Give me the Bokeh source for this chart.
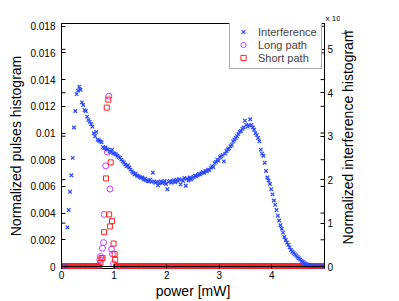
import math
import numpy as np
from bokeh.plotting import figure
from bokeh.layouts import row
from bokeh.models import (Range1d, LinearAxis, FixedTicker, CustomJSTickFormatter,
                          Span, Title, Legend, LegendItem)
from bokeh.core.properties import value
from bokeh.embed import file_html
from bokeh.resources import INLINE

# ---------------- data ----------------
# interference histogram (units of 1e-4), bins of 0.025 mW starting at 0.0125 mW
interference = [
    0, 0, 0, 0, 0.9, 1.3, 1.72, 2.1, 2.5, 3.2,
    3.58, 3.97, 4.05, 4.14, 4.07, 3.78, 3.72, 3.6, 3.58, 3.45,
    3.37, 3.33, 3.28, 3.22, 3.07, 3.0, 3.1, 2.92, 2.9, 2.88,
    2.86, 2.75, 2.72, 2.74, 2.7, 2.69, 2.65, 2.63, 2.69, 2.61,
    2.6, 2.58, 2.55, 2.52, 2.5, 2.46, 2.42, 2.39, 2.35, 2.31,
    2.33, 2.28, 2.23, 2.19, 2.16, 2.12, 2.14, 2.09, 2.08, 2.06,
    2.04, 2.05, 2.0, 2.02, 1.99, 1.97, 1.96, 2.0, 1.95, 2.16,
    1.96, 1.93, 1.95, 1.87, 1.93, 1.96, 1.92, 1.94, 1.97, 1.9,
    1.78, 1.95, 1.97, 1.93, 1.96, 1.99, 1.94, 2.0, 1.97, 2.01,
    1.89, 2.0, 1.97, 2.04, 1.86, 2.02, 1.98, 2.05, 2.0, 2.03,
    2.06, 2.09, 2.08, 2.1, 2.13, 2.12, 2.15, 2.17, 2.16, 2.2,
    2.19, 2.23, 2.22, 2.27, 2.31, 2.29, 2.38, 2.41, 2.46, 2.44,
    2.52, 2.54, 2.57, 2.42, 2.6, 2.66, 2.7, 2.72, 2.77, 2.8,
    2.88, 2.92, 2.96, 3.0, 3.05, 3.1, 3.12, 3.17, 3.2, 3.36,
    3.26, 3.22, 3.25, 3.39, 3.26, 3.2, 3.15, 3.07, 3.03, 2.96,
    2.88, 2.69, 2.6, 2.55, 2.39, 2.2, 2.05, 1.98, 1.9, 1.78,
    1.66, 1.52, 1.42, 1.3, 1.17, 1.06, 0.95, 0.87, 0.78, 0.68,
    0.61, 0.55, 0.5, 0.44, 0.38, 0.34, 0.31, 0.28, 0.25, 0.22,
    0.19, 0.16, 0.13, 0.11, 0.085, 0.065, 0.05, 0.038, 0.028, 0.02,
    0.014, 0.01, 0.007, 0.005, 0.003, 0.002, 0.001, 0.0005, 0.0002, 0,
]
bin_start, bin_step = 0.0125, 0.025
power_bins = np.round(bin_start + bin_step * np.arange(len(interference)), 4)

# pulse histograms: non-zero bins
long_x = [0.73, 0.74, 0.78, 0.80, 0.81, 0.84, 0.87, 0.90, 0.92, 0.95, 0.97, 0.99]
long_y = [0.0005, 0.00075, 0.00137, 0.00179, 0.0039, 0.00754, 0.00858, 0.01276,
          0.0058, 0.0013, 0.00093, 0.0002]
short_x = [0.74, 0.76, 0.78, 0.81, 0.846, 0.86, 0.89, 0.905, 0.92, 0.935, 0.96,
           0.99, 1.01, 1.02]
short_y = [0.00025, 0.00063, 0.00063, 0.00257, 0.0066, 0.0119, 0.0125, 0.0039,
           0.003, 0.0078, 0.0034, 0.00172, 0.00093, 0.0005]
peak_lo, peak_hi = 0.72, 1.03
zero_x = power_bins[(power_bins < peak_lo) | (power_bins > peak_hi)]
zero_y = np.zeros(len(zero_x))

left_ticks = [0, 0.002, 0.004, 0.006, 0.008, 0.01, 0.012, 0.014, 0.016, 0.018]
right_ticks = [0, 1, 2, 3, 4, 5]
x_ticks = [0, 1, 2, 3, 4]

x_label = "power [mW]"
left_label = "Normalized pulses histogram"
right_label = "Normalized interference histogram"
exp_base, exp_power = "x 10", "-4"

# ---------------- main figure ----------------
FONT = "Liberation Sans"
W, H = 399, 301
MAIN_W = 340
x_lo, x_hi = 0, 5
left_lo, left_hi = -0.000149, 0.018202
scale = 307.4  # right axis units (1e-4) per left axis unit
p = figure(width=MAIN_W, height=H, output_backend="svg", toolbar_location=None,
           x_range=Range1d(x_lo, x_hi), y_range=Range1d(left_lo, left_hi),
           min_border_left=61, min_border_right=16, min_border_top=23,
           min_border_bottom=32)
p.extra_y_ranges = {"right": Range1d(left_lo * scale, left_hi * scale)}
p.grid.visible = False
p.outline_line_color = "black"
p.outline_line_width = 1
p.background_fill_color = "white"
p.border_fill_color = "white"

def style_axis(ax):
    ax.major_tick_in = 4
    ax.major_tick_out = 0
    ax.minor_tick_in = 0
    ax.minor_tick_out = 0
    ax.axis_line_color = "black"
    ax.major_tick_line_color = "black"
    ax.major_label_text_font = FONT
    ax.major_label_text_font_size = "10px"
    ax.major_label_text_color = "black"
    ax.axis_label_text_font = FONT
    ax.axis_label_text_font_size = "14px"
    ax.axis_label_text_font_style = "normal"
    ax.axis_label_text_color = "black"

xa = p.xaxis[0]
xa.ticker = FixedTicker(ticks=x_ticks)
xa.axis_label = x_label
style_axis(xa)
xa.axis_line_color = None
xa.major_label_standoff = 2
xa.axis_label_standoff = 1

ya = p.yaxis[0]
ya.ticker = FixedTicker(ticks=left_ticks)
ya.formatter = CustomJSTickFormatter(code="return String(parseFloat(tick.toFixed(4)));")
ya.axis_label = left_label
style_axis(ya)
ya.major_label_standoff = 6
ya.axis_label_standoff = 3

ra = LinearAxis(y_range_name="right")
ra.ticker = FixedTicker(ticks=right_ticks)
style_axis(ra)
ra.major_label_standoff = 3
p.add_layout(ra, "right")

# ---------------- data glyphs ----------------
c_int = "#2a48ff"
c_long = "#c040ff"
c_short = "#ff2020"

r_long0 = p.scatter(zero_x, zero_y, marker="circle", size=6, fill_color=None,
                    line_color=c_long, line_width=1)
r_long = p.scatter(long_x, long_y, marker="circle", size=6, fill_color=None,
                   line_color=c_long, line_width=1)
r_short0 = p.scatter(zero_x, zero_y, marker="square", size=5, fill_color=None,
                     line_color=c_short, line_width=1)
r_short = p.scatter(short_x, short_y, marker="square", size=5, fill_color=None,
                    line_color=c_short, line_width=1)
p.add_layout(Span(location=0, dimension="width", line_color="black", line_width=1))
r_int = p.scatter(power_bins, interference, marker="x", size=5, line_color=c_int,
                  line_width=1.2, y_range_name="right")

# mirrored tick marks (other axis' ticks shown on the opposite side)
tick_len = 0.075
p.segment(x0=[x_lo] * len(right_ticks), x1=[x_lo + tick_len] * len(right_ticks),
          y0=right_ticks, y1=right_ticks, y_range_name="right",
          line_color="black", line_width=1)
p.segment(x0=[x_hi - tick_len] * len(left_ticks), x1=[x_hi] * len(left_ticks),
          y0=left_ticks, y1=left_ticks, line_color="black", line_width=1)

legend = Legend(items=[LegendItem(label="Interference", renderers=[r_int]),
                       LegendItem(label="Long path", renderers=[r_long]),
                       LegendItem(label="Short path", renderers=[r_short])],
                location=(168, 199))
legend.label_text_font = FONT
legend.label_text_font_size = "11px"
legend.label_height = 13
legend.glyph_height = 13
legend.glyph_width = 18
legend.label_standoff = 6
legend.spacing = 0
legend.padding = 4
legend.margin = 0
legend.border_line_color = "#555555"
legend.border_line_width = 1
legend.background_fill_alpha = 1
p.add_layout(legend, "center")

# exponent base above the right axis
p.add_layout(Title(text=exp_base, align="left", offset=264, standoff=2,
                   text_font=FONT, text_font_size="8px",
                   text_font_style="normal", text_color="black"), "above")

# ---------------- side strip: right axis title + exponent ----------------
SIDE_W = W - MAIN_W
side = figure(width=SIDE_W, height=H, output_backend="svg", toolbar_location=None,
              x_range=Range1d(0, SIDE_W), y_range=Range1d(0, H),
              x_axis_type=None, y_axis_type=None, min_border=0)
side.grid.visible = False
side.outline_line_color = None
side.background_fill_color = "white"
side.border_fill_color = "white"
side.text(x=[7], y=[H - 140], text=[right_label], angle=math.pi / 2,
          text_align="center", text_baseline="middle", text_font=value(FONT),
          text_font_size="14px", text_color="black")
side.text(x=[0.5], y=[H - 11], text=[exp_power], text_align="left",
          text_baseline="middle", text_font=value(FONT), text_font_size="7px",
          text_color="black")

layout = row(p, side)
open("out.html", "w").write(file_html(layout, INLINE))
